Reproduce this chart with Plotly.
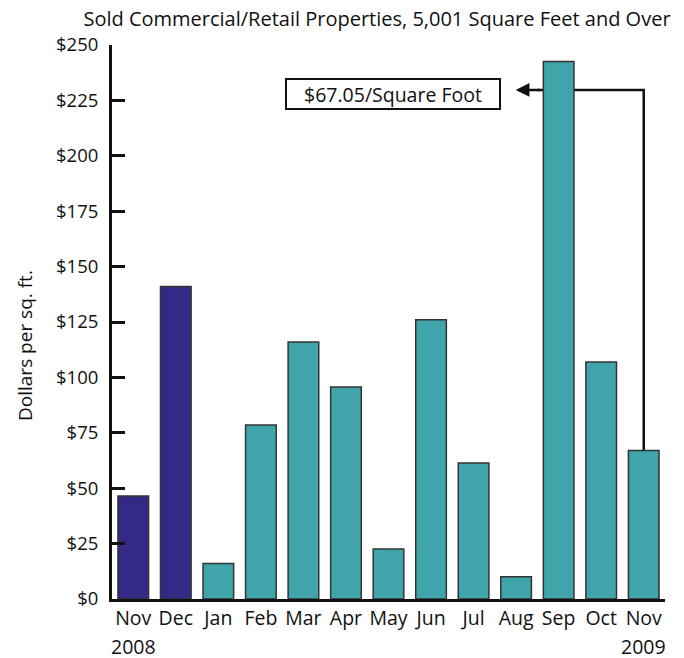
import plotly.graph_objects as go

months = ["Nov", "Dec", "Jan", "Feb", "Mar", "Apr", "May", "Jun", "Jul", "Aug", "Sep", "Oct", "Nov"]
years = ["2008", "2009"]
values = [46.5, 141, 16, 78.5, 116, 95.7, 22.6, 126, 61.4, 10, 242.5, 107, 67.05]
colors = ["#332a87", "#332a87"] + ["#40a4ab"] * 11
yticks = [0, 25, 50, 75, 100, 125, 150, 175, 200, 225, 250]
ytick_text = ["$" + str(v) for v in yticks]
callout_text = "$67.05/Square Foot"
title_text = "Sold Commercial/Retail Properties, 5,001 Square Feet and Over"
ytitle = "Dollars per sq. ft."

FONT = "Open Sans"
TXT = "#111111"
xs = list(range(len(months)))

# the page body adds an 8px offset; figure sized to fit the window
OFF = 8
W, H = 684 - OFF, 658 - OFF
L, R, T, B = 112 - OFF, 19, 45 - OFF, 59

fig = go.Figure()
fig.add_trace(go.Bar(
    x=xs, y=values, marker=dict(color=colors, line=dict(color="#333333", width=1.5)),
    width=0.72, showlegend=False, hoverinfo="skip"))

fig.update_layout(
    width=W, height=H,
    margin=dict(l=L, r=R, t=T, b=B, autoexpand=False),
    paper_bgcolor="white", plot_bgcolor="white",
    font=dict(family=FONT, size=18, color=TXT),
    title=dict(text=title_text, x=(377 - OFF) / W, xanchor="center", xref="container",
               y=1 - (19 - OFF) / H, yanchor="middle", yref="container",
               font=dict(family=FONT, size=20, color=TXT)),
)
fig.update_xaxes(range=[-0.5, 12.5], tickmode="array", tickvals=xs, ticktext=months,
                 showgrid=False, zeroline=False, showline=True, linecolor=TXT,
                 linewidth=3, ticks="", tickfont=dict(size=19.5, color=TXT))
fig.update_yaxes(range=[0, 250], tickmode="array", tickvals=yticks, ticktext=ytick_text,
                 showgrid=False, zeroline=False, showline=True, linecolor=TXT,
                 linewidth=3, ticks="inside", ticklen=13, tickwidth=3, tickcolor=TXT,
                 ticklabelstandoff=7, tickfont=dict(size=18.5, color=TXT))

plot_h = H - T - B
# year labels under first and last month
for xi, yr in zip([xs[0], xs[-1]], years):
    fig.add_annotation(x=xi, xref="x", y=-(646 - 599) / plot_h, yref="paper", text=yr,
                       showarrow=False, yanchor="middle", xanchor="center",
                       font=dict(family=FONT, size=19.5, color=TXT))

# connector line (behind bars)
fig.add_shape(type="path", path="M 9.5,229.7 L 12,229.7 L 12,%s" % values[-1],
              xref="x", yref="y", layer="below", line=dict(color=TXT, width=2.5))
# arrow head
fig.add_annotation(x=8.99, y=229.7, ax=9.6, ay=229.7, axref="x", ayref="y", xref="x", yref="y",
                   text="", showarrow=True, arrowhead=2, arrowsize=1.1, arrowwidth=2.5,
                   arrowcolor=TXT, standoff=0)
# callout box
fig.add_annotation(x=6.094, y=227.9, xref="x", yref="y", text=callout_text, showarrow=False,
                   font=dict(family=FONT, size=19.5, color=TXT),
                   bgcolor="white", bordercolor=TXT, borderwidth=2,
                   width=212, height=28, borderpad=0)
# y title
plot_w = W - L - R
fig.add_annotation(x=(25 - 112) / plot_w, xref="paper", y=(599 - 346) / plot_h, yref="paper",
                   xanchor="center", yanchor="middle",
                   text=ytitle, showarrow=False, textangle=-90,
                   font=dict(family=FONT, size=19, color=TXT))

fig.write_html("out.html")
